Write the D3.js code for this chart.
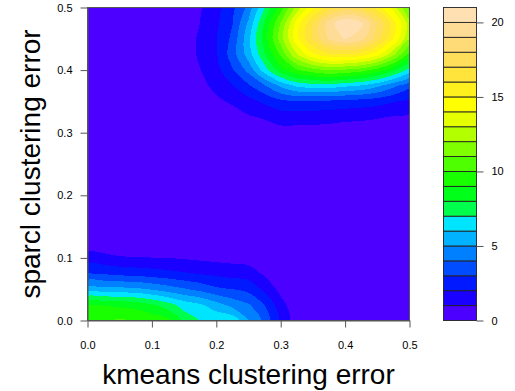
<!DOCTYPE html>
<html><head><meta charset="utf-8">
<script src="https://cdn.jsdelivr.net/npm/d3@7"></script>
<style>body{margin:0;background:#fff} svg{display:block} text{font-family:"Liberation Sans",Arial,Helvetica,sans-serif}</style>
</head><body><svg id="c" width="515" height="391"></svg>
<script>
// grid coordinates of the density estimate
const gridX = [0,0.025,0.05,0.075,0.1,0.125,0.15,0.175,0.2,0.225,0.25,0.275,0.3,0.325,0.35,0.375,0.4,0.425,0.45,0.475,0.5];
const gridY = [0,0.025,0.05,0.075,0.1,0.125,0.15,0.175,0.2,0.225,0.25,0.275,0.3,0.325,0.35,0.375,0.4,0.425,0.45,0.475,0.5];
// density values, one row per gridY value (bottom to top), one column per gridX value
const density = [
 [9.7,10.0,10.1,10.0,9.7,9.3,7.6,6.95,6.85,6.7,5.05,3.7,1.75,0.45,0.1,0.03,0,0,0,0,0],
 [9.0,8.95,8.8,8.6,8.1,7.4,6.6,6.15,5.4,4.65,4.1,3.0,1.35,0.35,0.08,0.02,0,0,0,0,0],
 [5.4,5.35,5.3,5.2,4.9,4.5,4.1,3.7,3.2,3.0,2.7,1.75,0.7,0.15,0.03,0,0,0,0,0,0],
 [3.05,2.9,2.7,2.6,2.45,2.3,2.1,1.95,1.75,1.6,1.5,0.85,0.25,0.05,0,0,0,0,0,0,0],
 [1.5,1.3,1.1,1.05,1.02,1.0,0.9,0.8,0.72,0.65,0.55,0.25,0.05,0,0,0,0,0,0,0,0],
 [0.35,0.28,0.2,0.2,0.2,0.2,0.15,0.15,0.12,0.1,0.08,0.03,0,0,0,0,0,0,0,0,0],
 [0.05,0.04,0.03,0.03,0.03,0.03,0.02,0.02,0.02,0.01,0.01,0,0,0,0,0,0,0,0,0,0],
 [0,0,0,0,0,0,0,0,0,0,0,0,0,0,0,0,0,0,0,0,0],
 [0,0,0,0,0,0,0,0,0,0,0,0,0,0,0,0,0,0,0,0,0],
 [0,0,0,0,0,0,0,0,0,0,0.01,0.01,0.02,0.02,0.02,0.03,0.03,0.03,0.03,0.02,0.02],
 [0,0,0,0,0,0,0,0.01,0.02,0.03,0.05,0.06,0.07,0.07,0.08,0.08,0.08,0.08,0.07,0.07,0.06],
 [0,0,0,0,0,0.01,0.02,0.04,0.08,0.1,0.13,0.16,0.19,0.19,0.19,0.19,0.17,0.17,0.16,0.14,0.13],
 [0,0,0,0,0.02,0.05,0.08,0.12,0.2,0.29,0.4,0.5,0.6,0.6,0.58,0.54,0.47,0.45,0.42,0.38,0.32],
 [0,0,0.01,0.03,0.06,0.1,0.17,0.28,0.42,0.64,0.9,1.1,1.45,1.45,1.42,1.35,1.24,1.18,1.08,0.94,0.81],
 [0,0.01,0.02,0.05,0.1,0.18,0.31,0.5,0.86,1.12,1.65,2.2,2.75,2.9,2.85,2.81,2.67,2.57,2.39,2.07,1.75],
 [0.01,0.02,0.05,0.1,0.17,0.28,0.45,0.78,1.2,1.95,2.85,3.9,5.2,6.2,6.5,6.54,6.2,5.91,5.24,4.29,3.29],
 [0.01,0.02,0.05,0.1,0.18,0.34,0.6,0.98,1.65,2.9,4.3,6.5,8.6,9.9,10.6,11.07,10.84,10.44,9.56,8.31,6.64],
 [0.01,0.02,0.05,0.1,0.19,0.36,0.65,1.12,1.9,3.5,5.5,7.9,10.2,12.9,14.82,15.83,15.92,15.52,14.39,12.23,9.6],
 [0.01,0.02,0.05,0.09,0.18,0.35,0.63,1.12,1.95,3.25,5.73,8.52,11.5,14.68,17.1,19.17,20.08,19.38,17.41,15.04,12.01],
 [0.01,0.02,0.04,0.08,0.16,0.31,0.58,1.0,1.8,2.95,5.19,8.1,11.03,14.42,17.01,19.51,20.92,20.29,18.04,15.46,12.44],
 [0.01,0.02,0.04,0.07,0.15,0.28,0.52,0.88,1.6,2.65,4.32,7.05,9.5,12.41,14.9,16.53,17.34,16.98,15.62,13.59,10.59]
];
const levels = [0,1,2,3,4,5,6,7,8,9,10,11,12,13,14,15,16,17,18,19,20,21];
const xTicks = [0,0.1,0.2,0.3,0.4,0.5];
const yTicks = [0,0.1,0.2,0.3,0.4,0.5];
const keyTicks = [0,5,10,15,20];
const xLabel = "kmeans clustering error";
const yLabel = "sparcl clustering error";

// R's hsv() and topo.colors()
function hsv(h, s, v) {
  const i = Math.floor(h * 6) % 6, f = h * 6 - Math.floor(h * 6);
  const p = v * (1 - s), q = v * (1 - s * f), t = v * (1 - s * (1 - f));
  const rgb = [[v,t,p],[q,v,p],[p,v,t],[p,q,v],[t,p,v],[v,p,q]][i];
  return d3.rgb(...rgb.map(c => Math.round(c * 255))).formatHex();
}
function topoColors(n) {
  const j = Math.floor(n / 3), k = Math.floor(n / 3), i = n - j - k, out = [];
  for (let a = 0; a < i; a++) out.push(hsv((43 - 12 * a / (i - 1)) / 60, 1, 1));
  for (let b = 0; b < j; b++) out.push(hsv((23 - 12 * b / (j - 1)) / 60, 1, 1));
  for (let c = 0; c < k; c++) out.push(hsv((10 - 4 * c / (k - 1)) / 60, 1 - 0.7 * c / (k - 1), 1));
  return out;
}

const svg = d3.select("#c");
svg.append("rect").attr("width", 515).attr("height", 391).attr("fill", "#fff");
const L = 87.5, R = 409.5, T = 7.5, B = 320.5;
const x = d3.scaleLinear().domain([gridX[0], gridX[gridX.length - 1]]).range([L, R]);
const y = d3.scaleLinear().domain([gridY[0], gridY[gridY.length - 1]]).range([B, T]);
const cols = topoColors(levels.length - 1);

const nx = gridX.length, ny = gridY.length;
const dxs = gridX[1] - gridX[0], dys = gridY[1] - gridY[0];
const contours = d3.contours().size([nx, ny]).thresholds(levels.slice(0, -1))(density.flat());
// contour grid coordinate -> pixel, then smooth rings with a closed Catmull-Rom curve
const toPx = p => [x(gridX[0] + (p[0] - 0.5) * dxs), y(gridY[0] + (p[1] - 0.5) * dys)];
const ringLine = d3.line().curve(d3.curveCatmullRomClosed.alpha(0.5));
const contourPath = mp => mp.coordinates.map(poly => poly.map(ring => {
  const pts = ring.slice(0, -1).map(toPx);
  return ringLine(pts);
}).join("")).join("");

svg.append("clipPath").attr("id", "clip").append("rect")
  .attr("x", L).attr("y", T).attr("width", R - L).attr("height", B - T);
svg.append("g").attr("clip-path", "url(#clip)")
  .selectAll("path").data(contours).join("path")
  .attr("d", contourPath).attr("fill-rule", "evenodd")
  .attr("fill", (d, i) => cols[i]).attr("shape-rendering", "crispEdges");

const lineCol = "#555";
svg.append("rect").attr("x", L).attr("y", T).attr("width", R - L).attr("height", B - T)
  .attr("fill", "none").attr("stroke", lineCol).attr("stroke-width", 1);

function styleAxis(g) {
  g.attr("font-size", 11).attr("font-family", '"Liberation Sans",Arial,sans-serif');
  g.selectAll("line,path").attr("stroke", lineCol);
  g.selectAll("text").attr("fill", "#000");
}
const fmt = d3.format(".1f");
svg.append("g").attr("transform", `translate(0,${B})`)
  .call(d3.axisBottom(x).tickValues(xTicks).tickFormat(fmt).tickSize(7).tickSizeOuter(0).tickPadding(14))
  .call(styleAxis);
svg.append("g").attr("transform", `translate(${L},0)`)
  .call(d3.axisLeft(y).tickValues(yTicks).tickFormat(fmt).tickSize(7).tickSizeOuter(0).tickPadding(8))
  .call(styleAxis);

// colour key
const kL = 443.5, kR = 476.5;
const ky = d3.scaleLinear().domain([levels[0], levels[levels.length - 1]]).range([B, T]);
svg.append("g").selectAll("rect").data(cols).join("rect")
  .attr("x", kL).attr("width", kR - kL)
  .attr("y", (d, i) => ky(levels[i + 1])).attr("height", (d, i) => ky(levels[i]) - ky(levels[i + 1]))
  .attr("fill", d => d).attr("stroke", "#222").attr("stroke-width", 0.9);
svg.append("g").attr("transform", `translate(${kR},0)`)
  .call(d3.axisRight(ky).tickValues(keyTicks).tickSize(7).tickSizeOuter(0).tickPadding(8))
  .call(styleAxis)
  .call(g => g.select(".domain").remove());

svg.append("text").attr("x", (L + R) / 2).attr("y", 384).attr("text-anchor", "middle")
  .attr("font-size", 28).attr("fill", "#000").text(xLabel);
svg.append("text").attr("transform", `translate(40,${(T + B) / 2}) rotate(-90)`).attr("text-anchor", "middle")
  .attr("font-size", 28).attr("fill", "#000").text(yLabel);
</script></body></html>
